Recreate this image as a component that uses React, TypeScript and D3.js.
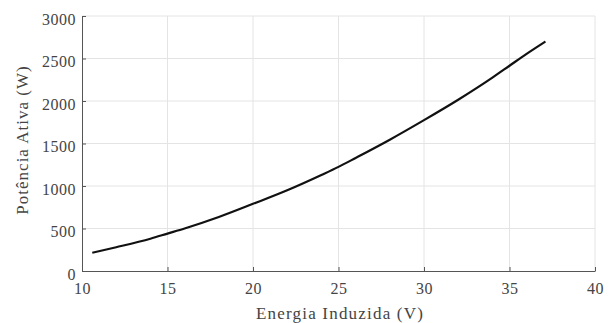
import React, { useEffect, useRef } from 'react';
import * as d3 from 'd3';

// values
const voltage = [10.6, 12, 14, 15, 16, 18, 20, 22, 24, 25, 26, 28, 30, 32, 34, 35, 36, 37.1];
const power = [215, 280, 380, 440, 500, 635, 790, 950, 1130, 1225, 1330, 1545, 1775, 2015, 2275, 2415, 2555, 2700];
const xTicks = [10, 15, 20, 25, 30, 35, 40];
const yTicks = [0, 500, 1000, 1500, 2000, 2500, 3000];

const W = 612;
const H = 323;
const margin = { top: 16, right: 17, bottom: 52, left: 82 };

const App = () => {
    const svgRef = useRef<SVGSVGElement>(null);

    useEffect(() => {
        const svg = d3.select(svgRef.current);
        svg.selectAll('*').remove();

        const x = d3.scaleLinear().domain([10, 40]).range([margin.left, W - margin.right]);
        const y = d3.scaleLinear().domain([0, 3000]).range([H - margin.bottom, margin.top]);
        const font = "'Liberation Serif', 'Times New Roman', serif";

        // grid
        const grid = svg.append('g').attr('stroke', '#e4e4e4').attr('stroke-width', 1);
        xTicks.slice(1).forEach(t => {
            grid.append('line')
                .attr('x1', x(t)).attr('x2', x(t))
                .attr('y1', y(0)).attr('y2', y(3000));
        });
        yTicks.slice(1).forEach(t => {
            grid.append('line')
                .attr('x1', x(10)).attr('x2', x(40))
                .attr('y1', y(t)).attr('y2', y(t));
        });

        // axes
        const xAxis = d3.axisBottom(x).tickValues(xTicks).tickFormat(d3.format('d'))
            .tickSizeInner(-4).tickSizeOuter(0).tickPadding(12);
        const yAxis = d3.axisLeft(y).tickValues(yTicks).tickFormat(d3.format('d'))
            .tickSizeInner(-4).tickSizeOuter(0).tickPadding(6);

        const gx = svg.append('g')
            .attr('transform', 'translate(0 ' + y(0) + ')')
            .call(xAxis);
        const gy = svg.append('g')
            .attr('transform', 'translate(' + x(10) + ' 0)')
            .call(yAxis);

        [gx, gy].forEach(g => {
            g.attr('font-family', null).attr('font-size', null);
            g.select('.domain').attr('stroke', '#555');
            g.selectAll('line').attr('stroke', '#555');
            g.selectAll('text')
                .style('font-family', font)
                .style('font-size', '16px')
                .attr('letter-spacing', 0.5)
                .attr('fill', '#444');
        });
        gy.selectAll('text').attr('dy', '0.5em');

        // curve
        const line = d3.line<number>()
            .x((d, i) => x(voltage[i]))
            .y(d => y(d))
            .curve(d3.curveMonotoneX);

        svg.append('path')
            .datum(power)
            .attr('d', line)
            .attr('fill', 'none')
            .attr('stroke', '#111')
            .attr('stroke-width', 2.2);

        // labels
        svg.append('text')
            .attr('x', 340)
            .attr('y', 319)
            .attr('text-anchor', 'middle')
            .style('font-family', font)
            .style('font-size', '17px')
            .attr('letter-spacing', 1.2)
            .attr('fill', '#444')
            .text('Energia Induzida (V)');

        svg.append('text')
            .attr('transform', 'translate(28 140) rotate(-90)')
            .attr('text-anchor', 'middle')
            .style('font-family', font)
            .style('font-size', '17px')
            .attr('letter-spacing', 1)
            .attr('fill', '#444')
            .text('Potência Ativa (W)');
    }, []);

    return (
        <svg ref={svgRef} width={W} height={H}
            style={{ position: 'absolute', left: 0, top: 0, background: '#fff' }} />
    );
};

export default App;
